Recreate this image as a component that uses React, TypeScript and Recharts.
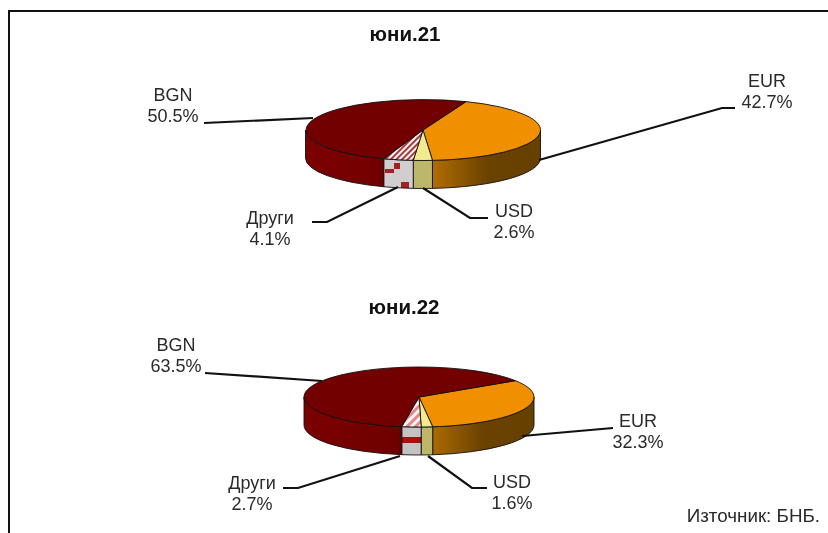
import React from "react";
import { PieChart, Pie, Cell } from "recharts";

const categories = ["EUR", "USD", "Други", "BGN"];
const june21Values = [42.7, 2.6, 4.1, 50.5];
const june22Values = [32.3, 1.6, 2.7, 63.5];
const titles = ["юни.21", "юни.22"];
const sourceNote = "Източник: БНБ.";

const toRows = (values: number[]) => categories.map((name, i) => ({ name, value: values[i] }));

const FONT = "'Liberation Sans', Arial, sans-serif";
const TOP_FILLS = ["#f09000", "#f2ea8e", "", "#720000"];

const pieGeo21 = { id: "a", cx: 423, cy: 130, rx: 117.5, ry: 30.5, depth: 28, startAngle: 68.5 };
const pieGeo22 = { id: "b", cx: 419, cy: 397, rx: 115, ry: 30, depth: 28, startAngle: 33 };

// leader line points and text centre, per slice, page pixels
const labels21 = [
  { pts: [[539, 160], [722, 108], [735, 108]], tx: 767, ty: 87 },
  { pts: [[423, 188], [470, 218], [488, 218]], tx: 514, ty: 217 },
  { pts: [[398, 187], [327, 222], [312, 222]], tx: 270, ty: 224 },
  { pts: [[313, 118], [204, 123]], tx: 173, ty: 101 },
];
const labels22 = [
  { pts: [[522, 436], [613, 428]], tx: 638, ty: 427 },
  { pts: [[428, 456], [472, 488], [487, 488]], tx: 512, ty: 488 },
  { pts: [[400, 456], [298, 488], [283, 488]], tx: 252, ty: 489 },
  { pts: [[322, 381], [205, 373]], tx: 176, ty: 351 },
];

type Geo = typeof pieGeo21;

const sectorShape = (geo: Geo) => (props: any) => {
  const { cx, cy, outerRadius: rx, startAngle, endAngle, index } = props;
  const { ry, depth, id } = geo;
  const pt = (deg: number, dy = 0) => {
    const r = (deg * Math.PI) / 180;
    return `${(cx + rx * Math.cos(r)).toFixed(2)} ${(cy - ry * Math.sin(r) + dy).toFixed(2)}`;
  };
  const large = startAngle - endAngle > 180 ? 1 : 0;
  const top = `M ${cx} ${cy} L ${pt(startAngle)} A ${rx} ${ry} 0 ${large} 1 ${pt(endAngle)} Z`;
  const from = Math.max(90 - startAngle, 90);
  const to = Math.min(90 - endAngle, 270);
  let wall = "";
  if (from < to) {
    const a = 90 - from;
    const b = 90 - to;
    wall = `M ${pt(a)} A ${rx} ${ry} 0 0 1 ${pt(b)} L ${pt(b, depth)} A ${rx} ${ry} 0 0 0 ${pt(a, depth)} Z`;
  }
  const wallFills = [`url(#wallEur${id})`, "#bdb76b", `url(#wallOther${id})`, `url(#wallBgn${id})`];
  const topFill = index === 2 ? `url(#hatch${id})` : TOP_FILLS[index];
  return (
    <g>
      <defs>
        <linearGradient id={`wallEur${id}`} gradientUnits="userSpaceOnUse" x1={cx} x2={cx + rx} y1={0} y2={0}>
          <stop offset="0" stopColor="#bd7500" />
          <stop offset="0.55" stopColor="#6b4200" />
          <stop offset="1" stopColor="#664000" />
        </linearGradient>
        <linearGradient id={`wallBgn${id}`} gradientUnits="userSpaceOnUse" x1={cx - rx} x2={cx} y1={0} y2={0}>
          <stop offset="0" stopColor="#7c0000" />
          <stop offset="0.75" stopColor="#700000" />
          <stop offset="1" stopColor="#5c0000" />
        </linearGradient>
        {id === "a" ? (
          <pattern id="wallOthera" patternUnits="userSpaceOnUse" x={383} y={160} width={32} height={30}>
            <rect width="32" height="30" fill="#d0cece" />
            <g fill="#a52020">
              <rect x="11" y="3" width="6" height="6" />
              <rect x="2" y="9" width="9" height="4" />
              <rect x="18" y="22" width="8" height="7" />
            </g>
          </pattern>
        ) : (
          <pattern id="wallOtherb" patternUnits="userSpaceOnUse" x={400} y={425} width={32} height={32}>
            <rect width="32" height="32" fill="#c4c2c2" />
            <rect x="0" y="12" width="32" height="6" fill="#a81010" />
          </pattern>
        )}
        <pattern
          id={`hatch${id}`}
          patternUnits="userSpaceOnUse"
          width={id === "a" ? 4 : 6}
          height={id === "a" ? 4 : 6}
          patternTransform="rotate(-45)"
        >
          <rect width="6" height="6" fill="#fbf4f4" />
          <rect width="6" height={id === "a" ? 2 : 3} fill={id === "a" ? "#a83a3a" : "#e58a8a"} />
        </pattern>
      </defs>
      {wall && <path d={wall} fill={wallFills[index]} stroke="#111" strokeWidth={0.9} />}
      <path d={top} fill={topFill} stroke="#111" strokeWidth={0.9} />
    </g>
  );
};

const labelRenderer = (layout: typeof labels21) => (props: any) => {
  const { index, name, value } = props;
  const l = layout[index];
  const x = l.tx;
  return (
    <g>
      <polyline
        points={l.pts.map((p) => p.join(",")).join(" ")}
        fill="none"
        stroke="#111"
        strokeWidth={2.2}
      />
      <text x={x} y={l.ty} textAnchor="middle" fontFamily={FONT} fontSize={18} fill="#2a2a2a">
        <tspan x={x}>{name}</tspan>
        <tspan x={x} dy={21}>{`${value.toFixed(1)}%`}</tspan>
      </text>
    </g>
  );
};

const SeriesPie = (geo: Geo, values: number[], layout: typeof labels21) => (
  <Pie
    key={geo.id}
    data={toRows(values)}
    dataKey="value"
    nameKey="name"
    cx={geo.cx}
    cy={geo.cy}
    innerRadius={0}
    outerRadius={geo.rx}
    startAngle={geo.startAngle}
    endAngle={geo.startAngle - 360}
    isAnimationActive={false}
    shape={sectorShape(geo)}
    label={labelRenderer(layout)}
    labelLine={false}
  >
    {values.map((_, i) => (
      <Cell key={i} fill={TOP_FILLS[i] || "#ccc"} />
    ))}
  </Pie>
);

export default function App() {
  return (
    <div style={{ position: "absolute", left: 0, top: 0, width: 828, height: 533, background: "#fff", overflow: "hidden" }}>
      <div style={{ position: "absolute", left: 8, top: 10, width: 820, height: 523, borderLeft: "2px solid #111", borderTop: "2px solid #111", boxSizing: "border-box" }} />
      <div style={{ position: "absolute", left: 0, top: 0, filter: "blur(0.35px)" }}>
        <PieChart width={828} height={533} margin={{ top: 0, right: 0, bottom: 0, left: 0 }}>
          <text x={405} y={41} textAnchor="middle" fontFamily={FONT} fontSize={20.5} fontWeight="bold" fill="#111">{titles[0]}</text>
          <text x={404} y={314} textAnchor="middle" fontFamily={FONT} fontSize={20.5} fontWeight="bold" fill="#111">{titles[1]}</text>
          {SeriesPie(pieGeo21, june21Values, labels21)}
          {SeriesPie(pieGeo22, june22Values, labels22)}
          <text x={820} y={522} textAnchor="end" fontFamily={FONT} fontSize={18.8} fill="#2a2a2a">{sourceNote}</text>
        </PieChart>
      </div>
    </div>
  );
}
